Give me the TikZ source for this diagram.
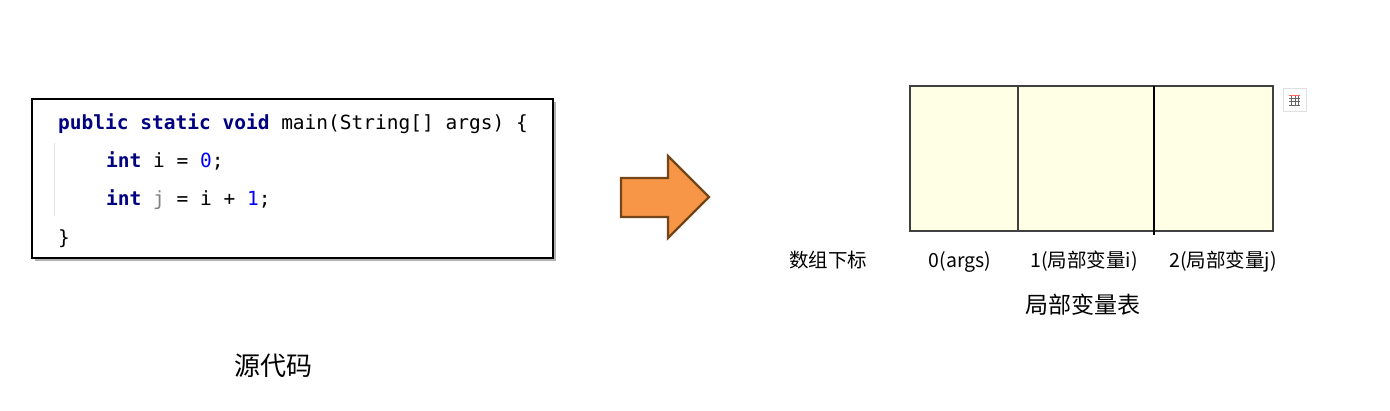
\documentclass[tikz,border=0pt]{standalone}
\usepackage{fontspec}
\setmonofont{DejaVu Sans Mono}
\newfontfamily\cjk{Noto Sans CJK SC}
\usetikzlibrary{positioning}
\definecolor{kwblue}{RGB}{0,0,128}
\definecolor{numblue}{RGB}{0,0,255}
\definecolor{unused}{RGB}{128,128,128}
\definecolor{arroworange}{RGB}{247,150,70}
\definecolor{arrowbrown}{RGB}{115,70,25}
\definecolor{cellyellow}{RGB}{255,255,230}
\tikzset{
	codeline/.style={anchor=base west, inner sep=0pt, font=\fontsize{19.5}{21}\ttfamily},
	cell/.style={draw=black!75, fill=cellyellow, line width=1.5pt, minimum height=145pt, inner sep=0pt, outer sep=0pt, anchor=north west},
	idx/.style={anchor=base, inner sep=0pt, font=\cjk\fontsize{19.5}{22}\selectfont},
	caption/.style={anchor=base, inner sep=0pt, font=\cjk\fontsize{23}{26}\selectfont},
}
\newcommand{\kw}[1]{\textbf{\color{kwblue}#1}}
\begin{document}
\begin{tikzpicture}[x=1pt, y=-1pt]
	\useasboundingbox (0,0) rectangle (1390,410);
	
	% code box
	\fill[black!30] (35,102) rectangle (556,261);
	\draw[line width=2pt, fill=white] (32,99) coordinate (C) rectangle (553,258);
	\draw[black!12, line width=1pt] (54,143) -- (54,216);
	\node[codeline] (l1) at (58,129) {\kw{public static void} main(String[] args) \{};
	\node[codeline] (l2) at (106,167) {\kw{int} i = {\color{numblue}0};};
	\node[codeline] (l3) at (106,205) {\kw{int} {\color{unused}j} = i + {\color{numblue}1};};
	\node[codeline] (l4) at (58,244) {\}};
	\node[caption, font=\cjk\fontsize{26}{28}\selectfont] (src) at (273,375) {源代码};
	
	% arrow
	\draw[line width=2.4pt, arrowbrown, fill=arroworange, line join=miter]
		(621,178) -- (668,178) -- (668,156) -- (709,197) -- (668,238) -- (668,217) -- (621,217) -- cycle;
	
	% local variable table
	\node[cell, minimum width=108pt] (cell0) at (910,86) {};
	\node[cell, minimum width=136pt] (cell1) at (cell0.north east) {};
	\node[cell, minimum width=119pt] (cell2) at (cell1.north east) {};
	\draw[line width=1.5pt] (cell2.north west) -- ([yshift=-4pt]cell2.south west);
	
	\node[idx] (idx) at (828,267) {数组下标};
	\node[idx] (idx0) at (960,267) {0(args)};
	\node[idx] (idx1) at (1084,267) {1(局部变量i)};
	\node[idx] (idx2) at (1223,267) {2(局部变量j)};
	\node[caption] (lvt) at (1083,313) {局部变量表};
	
	% table icon
	\draw[black!12, fill=white] (1283,88) rectangle (1306,111);
	\draw[black!60, line width=0.6pt] (1289,95) grid[step=3.5pt] (1300,105);
	\draw[red!60, line width=1pt] (1289,95) -- (1300,95);
\end{tikzpicture}
\end{document}
